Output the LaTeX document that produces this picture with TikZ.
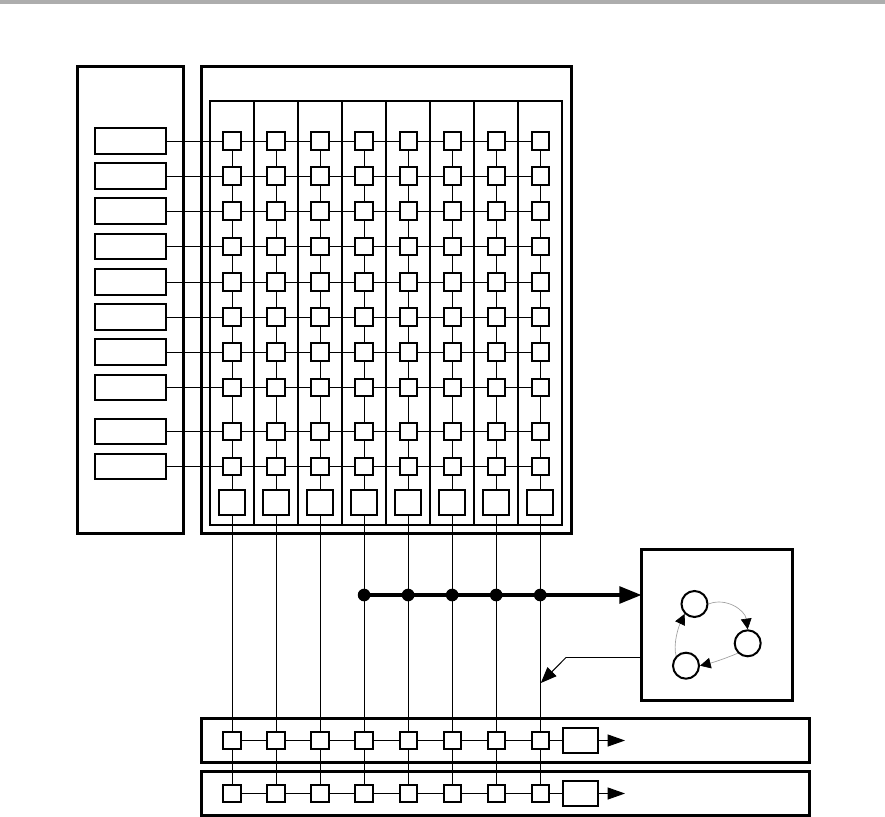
\documentclass[tikz,border=0pt]{standalone}
\usetikzlibrary{arrows.meta}
\definecolor{topbar}{HTML}{ADADAD}
\tikzset{
  x=0.75pt,y=-0.75pt,
  frame/.style={draw,line width=2.4pt,inner sep=0pt,outer sep=0pt},
  column/.style={draw,line width=1pt,inner sep=0pt,outer sep=0pt,minimum width=33pt,minimum height=318pt},
  sq/.style={draw,fill=white,line width=1.5pt,inner sep=0pt,minimum size=12.9pt},
  bigsq/.style={draw,fill=white,line width=1.5pt,inner sep=0pt,minimum size=19.2pt},
  srcbox/.style={draw,fill=white,line width=1.5pt,inner sep=0pt,minimum width=53pt,minimum height=19pt},
  outbox/.style={draw,fill=white,line width=1.5pt,inner sep=0pt,minimum width=25.7pt,minimum height=19.2pt},
  state/.style={circle,draw,fill=white,line width=1.5pt,inner sep=0pt,minimum size=19.5pt},
  link/.style={line width=0.72pt},
  jdot/.style={circle,fill=black,inner sep=0pt,minimum size=9.5pt},
  bus/.style={line width=2.6pt,-{Triangle[length=16.5pt,width=12.5pt]}},
  outarrow/.style={line width=0.72pt,-{Triangle[length=13pt,width=9pt]}},
  fb/.style={line width=0.72pt,-{Triangle[length=12pt,width=9.5pt]}},
  thin arc/.style={draw=gray!75,line width=0.5pt,-{Triangle[length=8pt,width=8pt,color=black]}}
}
\begin{document}
\begin{tikzpicture}
\useasboundingbox (0,0) rectangle (885,817);
\fill[topbar] (0,0) rectangle (885,4);
% frames
\node[frame,minimum width=79.5pt,minimum height=350pt] (leftframe) at (130.5,300) {};
\node[frame,minimum width=278pt,minimum height=350pt] (gridframe) at (386.5,300) {};
\node[frame,minimum width=456pt,minimum height=33pt] (busa) at (505.5,740.5) {};
\node[frame,minimum width=456pt,minimum height=33pt] (busb) at (505.5,793.5) {};
\node[frame,minimum width=113pt,minimum height=113pt] (ctrl) at (716.8,625) {};
% columns
\foreach \c in {1,...,8}
  \node[column] (col\c) at ({232+44*(\c-1)},313) {};
% grid, sources
\foreach \r/\y in {1/141,2/176,3/211,4/246.5,5/282,6/317,7/352,8/387.5,9/431.5,10/466.5}{
  \node[srcbox] (src\r) at (130.7,\y) {};
  \foreach \c in {1,...,8}
    \node[sq] (m\r-\c) at ({232+44.03*(\c-1)},\y) {};
}
\foreach \c in {1,...,8}{
  \node[bigsq] (big\c) at ({232+44.03*(\c-1)},502.5) {};
  \node[sq] (a\c) at ({232+44.03*(\c-1)},740.5) {};
  \node[sq] (b\c) at ({232+44.03*(\c-1)},793.5) {};
}
\node[outbox] (outa) at (580.5,740.5) {};
\node[outbox] (outb) at (580.5,793.5) {};
\coordinate (enda) at (625,740.5);
\coordinate (endb) at (625,793.5);
% grid connectors
\foreach \r in {1,...,10}{
  \draw[link] (src\r) -- (m\r-1);
  \foreach \c [remember=\c as \p (initially 1)] in {2,...,8}
    \draw[link] (m\r-\p) -- (m\r-\c);
}
\foreach \c in {1,...,8}{
  \foreach \r [remember=\r as \p (initially 1)] in {2,...,10}
    \draw[link] (m\p-\c) -- (m\r-\c);
  \draw[link] (m10-\c) -- (big\c);
  \draw[link] (big\c) -- (a\c);
  \draw[link] (a\c) -- (b\c);
}
\foreach \c [remember=\c as \p (initially 1)] in {2,...,8}{
  \draw[link] (a\p) -- (a\c);
  \draw[link] (b\p) -- (b\c);
}
\draw[link] (a8) -- (outa);
\draw[link] (b8) -- (outb);
\draw[outarrow] (outa) -- (enda);
\draw[outarrow] (outb) -- (endb);
% bus
\foreach \c in {4,...,8}
  \node[jdot] (j\c) at ({232+44.03*(\c-1)},595) {};
\draw[bus] (j4.center) -- (ctrl.west |- j4);
% feedback
\coordinate (fbbend) at (566,657.5);
\coordinate (fbend) at (540.8,683);
\draw[fb] (ctrl.west |- fbbend) -- (fbbend) -- (fbend);
% state machine
\node[state] (s1) at (694.5,604) {};
\node[state] (s2) at (747.7,643.3) {};
\node[state] (s3) at (686,665.7) {};
\draw[thin arc] (s1.east) .. controls (726,597) and (745,610) .. (s2.north);
\draw[thin arc] (s2.south west) .. controls (729,657) and (715,662) .. (s3.east);
\draw[thin arc] (s3.north west) .. controls (673,645) and (678,628) .. (s1.south west);
\end{tikzpicture}
\end{document}
